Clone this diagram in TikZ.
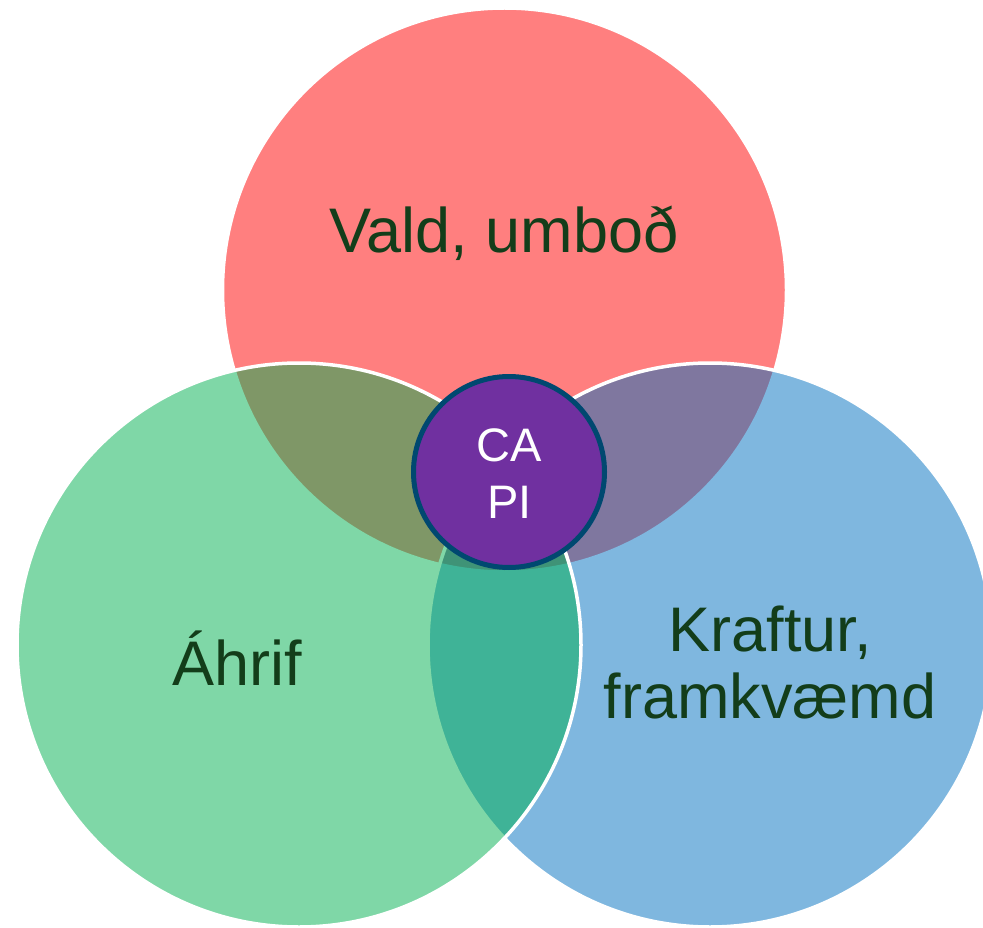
\documentclass[tikz,border=0pt]{standalone}
\usepackage{fontspec}
\setmainfont{Liberation Sans}
\definecolor{txt}{RGB}{19,61,26}
\definecolor{cred}{RGB}{255,0,0}
\definecolor{cgreen}{RGB}{0,176,80}
\definecolor{cblue}{RGB}{0,112,192}
\definecolor{cpurple}{RGB}{112,48,160}
\definecolor{cring}{RGB}{0,72,112}
\begin{document}
\begin{tikzpicture}[x=1pt,y=-1pt,
  venn/.style={circle, draw=white, line width=3.5pt, fill opacity=0.5,
    minimum size=564pt, inner sep=0pt, outer sep=0pt},
  lbl/.style={text=txt, font=\fontsize{63}{67}\selectfont, inner sep=0pt, align=center},
  hub/.style={circle, draw=cring, line width=5pt, fill=cpurple,
    minimum size=191pt, inner sep=0pt},
  hubtext/.style={text=white, font=\fontsize{47}{57}\selectfont, inner sep=0pt, align=center}]
\useasboundingbox (0,0) rectangle (983,928);
\fill[white] (0,0) rectangle (983,928);
\node[venn, fill=cred] (vald) at (504.5,290) {};
\node[venn, fill=cblue] (kraftur) at (710,645) {};
\node[venn, fill=cgreen] (ahrif) at (299,645) {};
\node[hub] (hub) at (509,472) {};
\node[lbl, anchor=base] (tvald) at (504,252.7) {Vald, umboð};
\node[lbl, anchor=base] (tahrif) at (237,685) {Áhrif};
\node[lbl, anchor=north] (tkraftur) at (770,605.8) {Kraftur,\\framkvæmd};
\node[hubtext, anchor=north] (capi) at (509.5,428.5) {CA\\PI};
\end{tikzpicture}
\end{document}
